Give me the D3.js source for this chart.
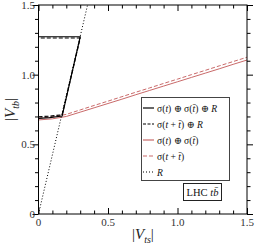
<!DOCTYPE html>
<html><head><meta charset="utf-8">
<script src="https://cdn.jsdelivr.net/npm/d3@7"></script>
<style>body{margin:0;background:#fff}svg{display:block}</style>
</head><body>
<script>
// Data
const vtsGrid = [0, 0.1, 0.2, 0.3, 0.4, 0.5, 0.6, 0.7, 0.8, 0.9, 1.0, 1.1, 1.2, 1.3, 1.4, 1.5];
const vtbRedSolid = [0.675, 0.683, 0.700, 0.731, 0.762, 0.793, 0.824, 0.856, 0.887, 0.918, 0.949, 0.980, 1.011, 1.042, 1.074, 1.105];
const vtbRedDashed = [0.688, 0.697, 0.715, 0.747, 0.779, 0.810, 0.842, 0.874, 0.905, 0.937, 0.968, 1.000, 1.031, 1.063, 1.094, 1.125];
const blackSolidVts = [0, 0.08, 0.17, 0.30, 0];
const blackSolidVtb = [0.687, 0.692, 0.703, 1.272, 1.272];
const blackDashedVts = [0, 0.08, 0.17, 0.30, 0];
const blackDashedVtb = [0.698, 0.702, 0.712, 1.263, 1.263];
const rVts = [0, 0.353];
const rVtb = [0, 1.5];
const xTicks = [0, 0.5, 1.0, 1.5];
const xTickLabels = ["0", "0.5", "1.0", "1.5"];
const yTicks = [0, 0.5, 1.0, 1.5];
const yTickLabels = ["0", "0.5", "1.0", "1.5"];
const legendLabels = ["σ(t) ⊕ σ(t\u0304) ⊕ R", "σ(t + t\u0304) ⊕ R", "σ(t) ⊕ σ(t\u0304)", "σ(t + t\u0304)", "R"];

const W = 257, H = 245;
const m = {l: 38.5, t: 5, r: 247, b: 214};
const red = "#c96a6a";
const svg = d3.select("body").append("svg").attr("width", W).attr("height", H);
const x = d3.scaleLinear().domain([0, 1.5]).range([m.l, m.r]);
const y = d3.scaleLinear().domain([0, 1.5]).range([m.b, m.t]);
const serif = "'Liberation Serif', 'DejaVu Serif', serif";

svg.append("clipPath").attr("id", "c").append("rect")
  .attr("x", m.l).attr("y", m.t).attr("width", m.r - m.l).attr("height", m.b - m.t);
const plot = svg.append("g").attr("clip-path", "url(#c)");

const line = d3.line().x(d => x(d[0])).y(d => y(d[1]));
const zip = (a, b) => a.map((v, i) => [v, b[i]]);

plot.append("path").attr("d", line(zip(vtsGrid, vtbRedSolid))).attr("fill", "none")
  .attr("stroke", red).attr("stroke-width", 1);
plot.append("path").attr("d", line(zip(vtsGrid, vtbRedDashed))).attr("fill", "none")
  .attr("stroke", red).attr("stroke-width", 1).attr("stroke-dasharray", "4,2");
plot.append("path").attr("d", line(zip(rVts, rVtb))).attr("fill", "none")
  .attr("stroke", "#000").attr("stroke-width", 1).attr("stroke-dasharray", "1,2");
plot.append("path").attr("d", line(zip(blackDashedVts, blackDashedVtb))).attr("fill", "none")
  .attr("stroke", "#000").attr("stroke-width", 1.2).attr("stroke-dasharray", "4,2");
plot.append("path").attr("d", line(zip(blackSolidVts, blackSolidVtb))).attr("fill", "none")
  .attr("stroke", "#000").attr("stroke-width", 1.2);

// Axes with inner ticks
const minor = d3.range(0, 1.5001, 0.1);
function ax(axisFn, scale, tr) {
  const g = svg.append("g").attr("transform", tr);
  g.call(axisFn(scale).tickValues(minor).tickSize(-3).tickFormat(""));
  g.select(".domain").remove();
  const horiz = (axisFn === d3.axisBottom || axisFn === d3.axisTop);
  g.selectAll(".tick line").attr("stroke", "#000").attr("stroke-width", 1)
    .attr(horiz ? "y2" : "x2", function(d) {
      const maj = Math.abs(d * 2 - Math.round(d * 2)) < 1e-6;
      const s = maj ? 6 : 3.5;
      return (axisFn === d3.axisBottom || axisFn === d3.axisLeft) ? -s : s;
    });
  return g;
}
ax(d3.axisBottom, x, `translate(0,${m.b})`);
ax(d3.axisTop, x, `translate(0,${m.t})`);
ax(d3.axisLeft, y, `translate(${m.l},0)`);
ax(d3.axisRight, y, `translate(${m.r},0)`);

svg.append("rect").attr("x", m.l).attr("y", m.t).attr("width", m.r - m.l).attr("height", m.b - m.t)
  .attr("fill", "none").attr("stroke", "#000").attr("stroke-width", 1);

// tick labels
svg.selectAll(".xl").data(xTicks).join("text").attr("class", "xl")
  .attr("x", d => x(d)).attr("y", 226).attr("text-anchor", "middle")
  .attr("font-family", serif).attr("font-size", 11).attr("fill", "#333")
  .text((d, i) => xTickLabels[i]);
svg.selectAll(".yl").data(yTicks).join("text").attr("class", "yl")
  .attr("x", 35).attr("y", d => y(d) + 4).attr("text-anchor", "end")
  .attr("font-family", serif).attr("font-size", 11).attr("fill", "#333")
  .text((d, i) => yTickLabels[i]);

// axis titles
function vlabel(g, sub) {
  const t = g.append("text").attr("font-family", serif).attr("font-size", 15).attr("fill", "#222");
  t.append("tspan").text("|");
  t.append("tspan").attr("font-style", "italic").text("V");
  t.append("tspan").attr("font-style", "italic").attr("font-size", 10).attr("dy", 4).text(sub);
  t.append("tspan").attr("dy", -4).text("|");
  return t;
}
vlabel(svg.append("g").attr("transform", "translate(132,239)"), "ts");
vlabel(svg.append("g").attr("transform", "translate(15,121) rotate(-90)"), "tb");

// legend
const lg = svg.append("g");
lg.append("rect").attr("x", 141.5).attr("y", 97.5).attr("width", 88).attr("height", 83)
  .attr("fill", "#fff").attr("stroke", "#444").attr("stroke-width", 1);
const lStyles = [
  {c: "#000", d: null}, {c: "#000", d: "3,1.5"}, {c: red, d: null}, {c: red, d: "4,2"}, {c: "#000", d: "1,2"}
];
legendLabels.forEach((lab, i) => {
  const yy = 108 + i * 16;
  lg.append("line").attr("x1", 143).attr("x2", 154).attr("y1", yy).attr("y2", yy)
    .attr("stroke", lStyles[i].c).attr("stroke-width", 1.2).attr("stroke-dasharray", lStyles[i].d);
  const t = lg.append("text").attr("x", 157).attr("y", yy + 3.5).attr("font-family", serif)
    .attr("font-size", 9.6).attr("fill", "#111");
  const parts = lab.split(/(t\u0304|t|R)/).filter(s => s.length);
  parts.forEach(p => {
    const ts = t.append("tspan").text(p);
    if (p === "t" || p === "t\u0304" || p === "R") ts.attr("font-style", "italic");
  });
});

// LHC box
svg.append("rect").attr("x", 183.5).attr("y", 183.5).attr("width", 38).attr("height", 17)
  .attr("fill", "#fff").attr("stroke", "#222").attr("stroke-width", 1);
const lt = svg.append("text").attr("x", 202.5).attr("y", 196).attr("text-anchor", "middle")
  .attr("font-family", serif).attr("font-size", 10.5).attr("fill", "#111");
lt.append("tspan").text("LHC ");
lt.append("tspan").attr("font-style", "italic").text(" tb\u0304");
</script>
</body></html>
